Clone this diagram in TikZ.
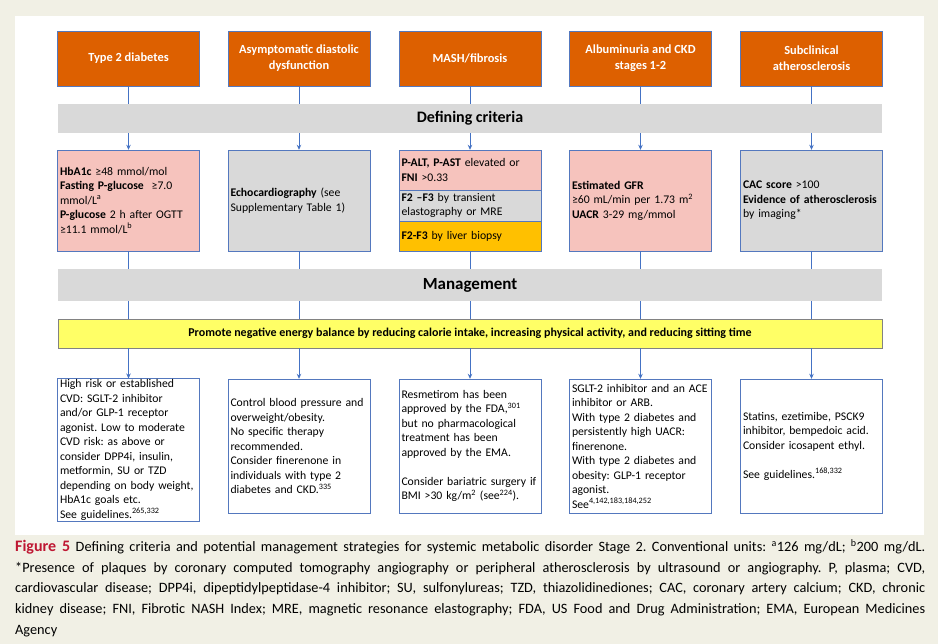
\documentclass[tikz,border=0pt]{standalone}
\usepackage{fontspec}
\setmainfont{Carlito}
\usetikzlibrary{positioning,arrows.meta}
\frenchspacing

\definecolor{pagebeige}{RGB}{241,240,229}
\definecolor{diseaseorange}{RGB}{221,96,0}
\definecolor{boxline}{RGB}{84,120,190}
\definecolor{lineblue}{RGB}{68,114,196}
\definecolor{critpink}{RGB}{246,195,189}
\definecolor{bargrey}{RGB}{217,217,217}
\definecolor{biopsyyellow}{RGB}{255,192,0}
\definecolor{energyyellow}{RGB}{255,255,102}
\definecolor{energyline}{RGB}{130,130,130}
\definecolor{figred}{RGB}{190,22,50}

\begin{document}
\begin{tikzpicture}[x=1pt,y=-1pt,
  conn/.style={draw=lineblue,line width=0.8pt},
  tip/.style={-{Stealth[length=5pt,width=4.5pt]}},
  disease/.style={draw=boxline,fill=diseaseorange,text=white,minimum width=142pt,minimum height=55pt,
    align=center,font=\fontsize{12.4}{16}\selectfont\bfseries},
  crit/.style={draw=boxline,text width=137pt,inner xsep=2.5pt,inner ysep=1pt,align=left,
    font=\fontsize{11.7}{14.5}\selectfont},
  bar/.style={fill=bargrey,minimum width=824pt,inner sep=0pt}]

\useasboundingbox[fill=pagebeige] (0,0) rectangle (938,644);
\fill[white] (15,16) rectangle (924,535);

% disorders
\node[disease] (dis1) at (128.5,58.5) {Type 2 diabetes};
\node[disease] (dis2) at (299,58.5) {Asymptomatic diastolic\\dysfunction};
\node[disease] (dis3) at (470,58.5) {MASH/fibrosis};
\node[disease] (dis4) at (640.5,58.5) {Albuminuria and CKD\\stages 1-2};
\node[disease] (dis5) at (811.5,58.5) {Subclinical\\atherosclerosis};

\node[bar,minimum height=29pt,font=\fontsize{16}{18}\selectfont\bfseries] (defbar) at (470,118.5) {Defining criteria};

% defining criteria
\node[crit,fill=critpink,minimum height=101pt] (crit1) at (128.5,200.5)
  {\textbf{HbA1c} ≥48 mmol/mol\\\textbf{Fasting P-glucose}\ \ ≥7.0\\mmol/L\textsuperscript{a}\\
   \textbf{P-glucose} 2 h after OGTT\\≥11.1 mmol/L\textsuperscript{b}\\[10pt]};
\node[crit,fill=bargrey,minimum height=101pt] (crit2) at (299,200.5)
  {\textbf{Echocardiography} (see\\Supplementary Table 1)};
\node[crit,fill=critpink,minimum height=40pt] (crit3) at (470,170)
  {\textbf{P-ALT, P-AST} elevated or\\\textbf{FNI} >0.33};
\node[crit,fill=bargrey,minimum height=31pt] (crit3b) at (470,205.5)
  {\textbf{F2 –F3} by transient\\elastography or MRE};
\node[crit,fill=biopsyyellow,minimum height=30pt] (crit3c) at (470,236)
  {\textbf{F2-F3} by liver biopsy};
\node[crit,fill=critpink,minimum height=101pt] (crit4) at (640.5,200.5)
  {\textbf{Estimated GFR}\\≥60 mL/min per 1.73 m\textsuperscript{2}\\\textbf{UACR} 3-29 mg/mmol\\[8pt]};
\node[crit,fill=bargrey,minimum height=101pt] (crit5) at (811.5,200.5)
  {\textbf{CAC score} >100\\\textbf{Evidence of atherosclerosis}\\by imaging*};

\node[bar,minimum height=32pt,font=\fontsize{17}{19}\selectfont\bfseries] (manbar) at (470,285) {Management};
\node[bar,fill=energyyellow,draw=energyline,minimum height=29pt,font=\fontsize{12}{14}\selectfont\bfseries] (energy) at (470,333.5)
  {Promote negative energy balance by reducing calorie intake, increasing physical activity, and reducing sitting time};

% management
\node[crit,fill=white,minimum height=142pt] (man1) at (128.5,450)
  {High risk or established\\CVD: SGLT-2 inhibitor\\and/or GLP-1 receptor\\agonist. Low to moderate\\
   CVD risk: as above or\\consider DPP4i, insulin,\\metformin, SU or TZD\\depending on body weight,\\
   HbA1c goals etc.\\See guidelines.\textsuperscript{265,332}};
\node[crit,fill=white,minimum height=134pt] (man2) at (299,446)
  {Control blood pressure and\\overweight/obesity.\\No specific therapy\\recommended.\\
   Consider finerenone in\\individuals with type 2\\diabetes and CKD.\textsuperscript{335}};
\node[crit,fill=white,minimum height=134pt] (man3) at (470,446)
  {Resmetirom has been\\approved by the FDA,\textsuperscript{301}\\but no pharmacological\\treatment has been\\
   approved by the EMA.\\[14.5pt]Consider bariatric surgery if\\BMI >30 kg/m\textsuperscript{2} (see\textsuperscript{224}).};
\node[crit,fill=white,minimum height=134pt] (man4) at (640.5,446)
  {SGLT-2 inhibitor and an ACE\\inhibitor or ARB.\\With type 2 diabetes and\\persistently high UACR:\\
   finerenone.\\With type 2 diabetes and\\obesity: GLP-1 receptor\\agonist.\\See\textsuperscript{4,142,183,184,252}};
\node[crit,fill=white,minimum height=134pt] (man5) at (811.5,446)
  {Statins, ezetimibe, PSCK9\\inhibitor, bempedoic acid.\\Consider icosapent ethyl.\\[14.5pt]
   See guidelines.\textsuperscript{168,332}};

% connectors
\foreach \d/\ct/\cb/\m in {dis1/crit1/crit1/man1, dis2/crit2/crit2/man2, dis3/crit3/crit3c/man3,
                           dis4/crit4/crit4/man4, dis5/crit5/crit5/man5} {
  \draw[conn] (\d.south) -- (\d.south |- defbar.north);
  \draw[conn,tip] (\ct.north |- defbar.south) -- (\ct.north);
  \draw[conn] (\cb.south) -- (\cb.south |- manbar.north);
  \draw[conn] (\cb.south |- manbar.south) -- (\cb.south |- energy.north);
  \draw[conn,tip] (\m.north |- energy.south) -- (\m.north);
}

% caption
\node[anchor=north west,text width=910pt,align=justify,inner sep=0pt,font=\fontsize{14.3}{20.8}\selectfont] (caption) at (15,539)
  {{\fontsize{16}{18}\selectfont\color{figred}\bfseries Figure 5} Defining criteria and potential management strategies for systemic metabolic disorder Stage 2. Conventional units: \textsuperscript{a}126 mg/dL; \textsuperscript{b}200 mg/dL.\linebreak
   *Presence of plaques by coronary computed tomography angiography or peripheral atherosclerosis by ultrasound or angiography. P, plasma; CVD,\linebreak
   cardiovascular disease; DPP4i, dipeptidylpeptidase-4 inhibitor; SU, sulfonylureas; TZD, thiazolidinediones; CAC, coronary artery calcium; CKD, chronic\linebreak
   kidney disease; FNI, Fibrotic NASH Index; MRE, magnetic resonance elastography; FDA, US Food and Drug Administration; EMA, European Medicines\linebreak
   Agency};
\end{tikzpicture}
\end{document}
